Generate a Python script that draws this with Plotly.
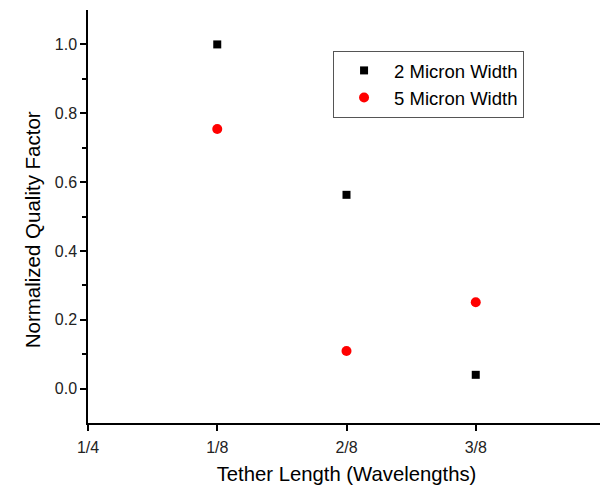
import plotly.graph_objects as go

x_pos = [1, 2, 3]
tick_vals = [0, 1, 2, 3, 4]
tick_text = ["1/4", "1/8", "2/8", "3/8", ""]
q_2micron = [1.0, 0.563, 0.040]
q_5micron = [0.754, 0.109, 0.251]

fig = go.Figure()
fig.add_trace(go.Scatter(x=x_pos, y=q_2micron, mode="markers", name="2 Micron Width",
                         marker=dict(symbol="square", size=8, color="black")))
fig.add_trace(go.Scatter(x=x_pos, y=q_5micron, mode="markers", name="5 Micron Width",
                         marker=dict(symbol="circle", size=10, color="#ff0000")))

axis_common = dict(showline=True, linecolor="black", linewidth=1.5, ticks="outside",
                   ticklen=6, tickwidth=1.5, tickcolor="black", showgrid=False,
                   zeroline=False, mirror=False, tickfont=dict(size=16, color="#222222"))
fig.update_layout(
    width=600, height=478,
    margin=dict(l=80, r=3, t=2, b=63),
    plot_bgcolor="white", paper_bgcolor="white",
    font=dict(family="Liberation Sans, Arial", color="black", size=14),
    xaxis=dict(range=[0, 4], tickvals=tick_vals, ticktext=tick_text, ticklabelstandoff=3,
               title=dict(text="Tether Length (Wavelengths)", font=dict(size=20.3), standoff=12),
               **axis_common),
    yaxis=dict(range=[-0.1, 1.1], tickvals=[0, 0.2, 0.4, 0.6, 0.8, 1.0], tickformat=".1f",
               minor=dict(tickvals=[0.1, 0.3, 0.5, 0.7, 0.9], ticks="outside", ticklen=4,
                          tickcolor="black", tickwidth=1.5),
               **axis_common),
    legend=dict(x=0.474, y=0.901, xanchor="left", yanchor="top", bordercolor="#555555",
                borderwidth=1, font=dict(size=18.5), itemwidth=50, bgcolor="white",
                tracegroupgap=0),
    showlegend=True,
    annotations=[dict(text="Normalized Quality Factor", textangle=-90, xref="paper", yref="paper",
                      x=-0.108, y=0.467, xanchor="center", yanchor="middle", showarrow=False,
                      font=dict(size=20.5))],
)
fig.write_html("out.html")
